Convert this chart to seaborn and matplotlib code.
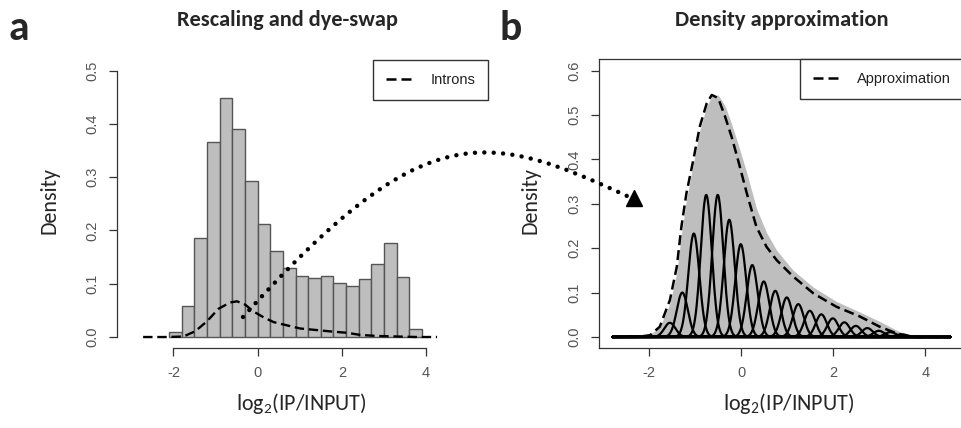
import numpy as np
import pandas as pd
import matplotlib
matplotlib.use("Agg")
import matplotlib.pyplot as plt
import seaborn as sns
from matplotlib import font_manager
from matplotlib.lines import Line2D
from matplotlib.path import Path
from matplotlib.patches import PathPatch

# ---------------- data ----------------
hist_edges = [-2.1, -1.8, -1.5, -1.2, -0.9, -0.6, -0.3, 0.0, 0.3, 0.6, 0.9,
              1.2, 1.5, 1.8, 2.1, 2.4, 2.7, 3.0, 3.3, 3.6, 3.9]
hist_density = [0.009, 0.058, 0.186, 0.366, 0.448, 0.391, 0.293, 0.213, 0.161, 0.129,
                0.114, 0.110, 0.114, 0.102, 0.096, 0.108, 0.138, 0.176, 0.112, 0.016]

intron_x = [-2.72, -2.2, -1.76, -1.48, -1.21, -0.93, -0.65, -0.49, -0.30, -0.10, 0.14,
            0.38, 0.69, 1.01, 1.41, 1.80, 2.12, 2.43, 2.83, 3.31, 3.78, 4.26]
intron_y = [0.0, 0.0, 0.001, 0.011, 0.029, 0.053, 0.065, 0.067, 0.061, 0.048, 0.037,
            0.028, 0.022, 0.016, 0.013, 0.010, 0.008, 0.004, 0.002, 0.001, 0.0, 0.0]

approx_x = [-2.8, -2.2, -1.98, -1.77, -1.55, -1.40, -1.30, -1.19, -1.04, -0.90, -0.75,
            -0.64, -0.50, -0.35, -0.21, -0.07, 0.12, 0.33, 0.55, 0.77, 1.13, 1.57,
            2.07, 2.58, 3.01, 3.38, 3.60, 3.75, 4.55]
approx_y = [0.0, 0.001, 0.004, 0.023, 0.083, 0.158, 0.248, 0.324, 0.399, 0.474, 0.526,
            0.545, 0.538, 0.496, 0.451, 0.399, 0.324, 0.248, 0.203, 0.173, 0.136, 0.098,
            0.068, 0.046, 0.023, 0.008, 0.002, 0.0, 0.0]
fill_y = [0.0, 0.002, 0.006, 0.022, 0.075, 0.145, 0.230, 0.310, 0.390, 0.465, 0.520,
          0.542, 0.545, 0.520, 0.480, 0.435, 0.370, 0.290, 0.235, 0.195, 0.150, 0.112,
          0.080, 0.056, 0.035, 0.015, 0.005, 0.001, 0.0]

comp_center = [-1.55, -1.28, -1.03, -0.76, -0.51, -0.26, -0.01, 0.24, 0.49, 0.74, 0.99,
               1.24, 1.49, 1.74, 1.99, 2.24, 2.49, 2.74, 2.99, 3.24, 3.49]
comp_height = [0.032, 0.100, 0.233, 0.320, 0.320, 0.264, 0.209, 0.162, 0.125, 0.104, 0.089,
               0.074, 0.059, 0.051, 0.042, 0.033, 0.025, 0.020, 0.014, 0.011, 0.006]
comp_sd = 0.12
comp_range = (-2.8, 4.55)

x_ticks = [-2, 0, 2, 4]
yL_ticks = [0.0, 0.1, 0.2, 0.3, 0.4, 0.5]
yR_ticks = [0.0, 0.1, 0.2, 0.3, 0.4, 0.5, 0.6]

# ---------------- style ----------------
sns.set_style("white")
names = {f.name for f in font_manager.fontManager.ttflist}
if "Liberation Sans Narrow" in names:
    r_font, r_size = "Liberation Sans Narrow", 12.5
else:
    r_font, r_size = "Liberation Sans", 10.5
c_font = "Carlito" if "Carlito" in names else "Lato"
plt.rcParams["font.family"] = [c_font, "DejaVu Sans"]
plt.rcParams["mathtext.fontset"] = "custom"
plt.rcParams["mathtext.rm"] = c_font
plt.rcParams["mathtext.default"] = "regular"

W, H = 961, 428
fig = plt.figure(figsize=(W / 100, H / 100), dpi=100)
fig.patch.set_facecolor("white")

AX_COL = "#333333"
LBL_COL = "#555555"
GRAY = "#BEBEBE"
DASH = (0, (4, 2))


def px_rect(l, r, t, b):
    return [l / W, 1 - b / H, (r - l) / W, (b - t) / H]


def style_axes(ax, yticks):
    ax.set_xticks(x_ticks)
    ax.set_yticks(yticks)
    ax.set_xticklabels([f"{v:g}" for v in x_ticks])
    ax.set_yticklabels([f"{v:.1f}" for v in yticks])
    ax.tick_params(axis="both", direction="out", length=6, width=0.9,
                   color=AX_COL, labelcolor=LBL_COL, labelsize=r_size, pad=7,
                   left=True, bottom=True)
    for lab in ax.get_xticklabels() + ax.get_yticklabels():
        lab.set_fontfamily(r_font)
    for lab in ax.get_yticklabels():
        lab.set_rotation(90)
        lab.set_va("center")
    ax.set_xlabel("")
    ax.set_ylabel("")
    ax.grid(False)


# ---------------- left panel ----------------
axL = fig.add_axes(px_rect(117, 488, 60, 348))
centers = [(a + b) / 2 for a, b in zip(hist_edges[:-1], hist_edges[1:])]
sns.histplot(x=centers, weights=hist_density, bins=hist_edges, stat="count",
             color=GRAY, edgecolor="#555555", linewidth=1.0, alpha=1.0, ax=axL)
for p in axL.patches:
    p.set_facecolor(GRAY)
sns.lineplot(x=intron_x, y=intron_y, color="black", lw=1.7, linestyle=DASH, ax=axL)
axL.set_xlim(-3.34, 5.47)
axL.set_ylim(-0.0206, 0.52)
for s in ["top", "right"]:
    axL.spines[s].set_visible(False)
axL.spines["left"].set_bounds(0, 0.5)
axL.spines["bottom"].set_bounds(-2, 4)
for s in ["left", "bottom"]:
    axL.spines[s].set_color(AX_COL)
    axL.spines[s].set_linewidth(0.9)
style_axes(axL, yL_ticks)

# ---------------- right panel ----------------
axR = fig.add_axes(px_rect(599, 964, 59, 348))
axR.fill_between(approx_x, fill_y, color=GRAY, lw=0, zorder=1)
grid = np.linspace(comp_range[0], comp_range[1], 800)
rows = []
for i, (c, h) in enumerate(zip(comp_center, comp_height)):
    rows.append(pd.DataFrame({"x": grid,
                              "y": h * np.exp(-0.5 * ((grid - c) / comp_sd) ** 2),
                              "comp": i}))
comp_df = pd.concat(rows, ignore_index=True)
sns.lineplot(data=comp_df, x="x", y="y", units="comp", estimator=None,
             color="black", lw=1.6, ax=axR, zorder=2)
sns.lineplot(x=approx_x, y=approx_y, color="black", lw=1.8, linestyle=DASH,
             ax=axR, zorder=3)
axR.set_xlim(-3.09, 4.84)
axR.set_ylim(-0.0248, 0.626)
for s in axR.spines.values():
    s.set_color(AX_COL)
    s.set_linewidth(0.9)
style_axes(axR, yR_ticks)

# ---------------- legends ----------------
leg_handle = [Line2D([], [], color="black", lw=1.8, linestyle=DASH)]
fs_px = r_size * 100 / 72
for ax, lab in [(axL, "Introns"), (axR, "Approximation")]:
    leg = ax.legend(leg_handle, [lab], loc="upper right", borderaxespad=0,
                    frameon=True, fancybox=False, edgecolor=AX_COL, framealpha=1,
                    handlelength=25 / fs_px, handletextpad=19 / fs_px,
                    borderpad=0.88,
                    prop={"family": r_font, "size": r_size})
    leg.get_frame().set_linewidth(1.0)
    for t in leg.get_texts():
        t.set_color("#222222")

# ---------------- figure texts ----------------
renderer = fig.canvas.get_renderer()


def fit_text(x, y, s, width, size0=12, rotation=0, **kw):
    t = fig.text(x / W, 1 - y / H, s, fontsize=size0, **kw)
    bb = t.get_window_extent(renderer)
    t.set_fontsize(size0 * width / bb.width)
    t.set_rotation(rotation)
    return t


fit_text(287.5, 25.5, "Rescaling and dye-swap", 222, fontweight="bold",
         ha="center", va="baseline")
fit_text(782, 25.5, "Density approximation", 214, fontweight="bold",
         ha="center", va="baseline")
fit_text(49.5, 200, "Density", 67, rotation=90, ha="center", va="center")
fit_text(531, 200, "Density", 67, rotation=90, ha="center", va="center")
fit_text(301.5, 410, r"log$_2$(IP/INPUT)", 131, ha="center", va="baseline")
fit_text(789, 410, r"log$_2$(IP/INPUT)", 132, ha="center", va="baseline")
fig.text(9 / W, 1 - 39.5 / H, "a", fontsize=30, fontweight="bold", ha="left",
         va="baseline")
fig.text(500 / W, 1 - 40 / H, "b", fontsize=30, fontweight="bold", ha="left",
         va="baseline")

# ---------------- dotted connector ----------------
pts = [(243, 317), (423, 117), (485, 130), (627, 196)]
verts = [(x / W, 1 - y / H) for x, y in pts]
conn = PathPatch(Path(verts, [Path.MOVETO, Path.CURVE4, Path.CURVE4, Path.CURVE4]),
                 transform=fig.transFigure, fill=False, edgecolor="black", lw=3.2,
                 linestyle=(0, (0.01, 2.1)), capstyle="round", zorder=20)
fig.add_artist(conn)
fig.add_artist(Line2D([634 / W], [1 - 197.5 / H], marker="^", markersize=11,
                      color="black", linestyle="none", transform=fig.transFigure,
                      zorder=21))

fig.savefig("out.png", dpi=100, facecolor="white")
